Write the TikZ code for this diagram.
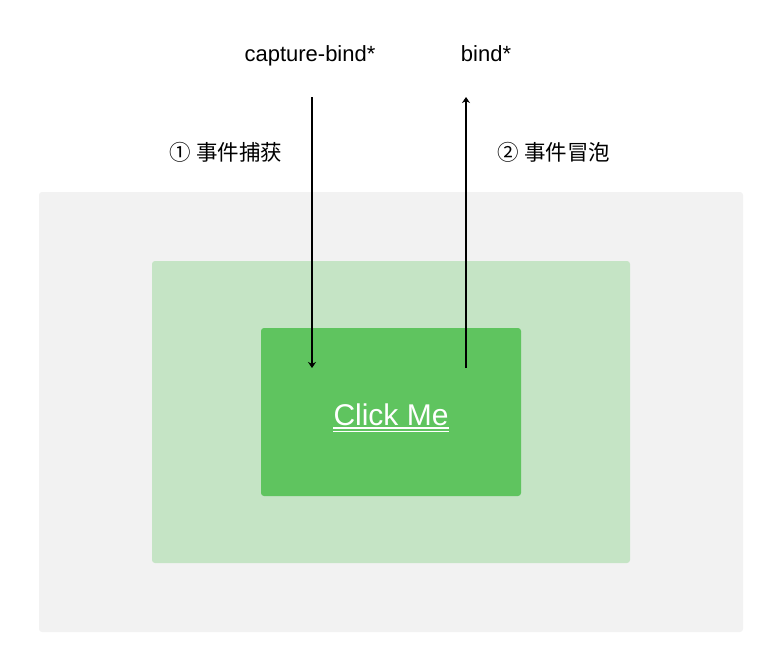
\documentclass[tikz,border=0pt]{standalone}
\usepackage{fontspec}
\setmainfont{Liberation Sans}
\newfontfamily\cjk{Noto Sans CJK SC}
\usetikzlibrary{arrows.meta}

\definecolor{pagegray}{HTML}{F2F2F2}
\definecolor{lightgreen}{HTML}{C5E4C5}
\definecolor{btngreen}{HTML}{5FC45F}

\begin{document}
\begin{tikzpicture}[x=1pt,y=-1pt]
    \useasboundingbox (0,0) rectangle (766,656);

    \fill[pagegray, rounded corners=3pt](39,192) rectangle (743,632);
    \fill[lightgreen, rounded corners=3pt](152,261) rectangle (630,563);
    \fill[btngreen, rounded corners=3pt](261,328) rectangle (521,496);

    \node[anchor=base, inner sep=0pt, font=\fontsize{22}{26}\selectfont](capture) at (310,61){capture-bind*};
    \node[anchor=base, inner sep=0pt, font=\fontsize{22}{26}\selectfont](bind) at (486,61){bind*};

    \node[inner sep=0pt, font=\cjk\fontsize{21.5}{26}\selectfont](captureLabel) at (226,152){① 事件捕获};
    \node[inner sep=0pt, font=\cjk\fontsize{21.5}{26}\selectfont](bubbleLabel) at (554,152){② 事件冒泡};

    \coordinate (captureTop) at (312,97);
    \coordinate (captureEnd) at (312,368);
    \coordinate (bubbleStart) at (466,368);
    \coordinate (bubbleTop) at (466,97);
    \draw[line width=1.3pt, -{Stealth[length=6pt,width=8pt]}](captureTop)--(captureEnd);
    \draw[line width=1.3pt, -{Stealth[length=6pt,width=8pt]}](bubbleStart)--(bubbleTop);

    \node[anchor=base, inner sep=0pt, white, font=\fontsize{30}{36}\selectfont](click) at (391,425){Click Me};
    \draw[white, line width=1.2pt]([yshift=-3pt]click.base west)--([yshift=-3pt]click.base east);
    \draw[white, line width=1.2pt]([yshift=-6.5pt]click.base west)--([yshift=-6.5pt]click.base east);

\end{tikzpicture}
\end{document}
